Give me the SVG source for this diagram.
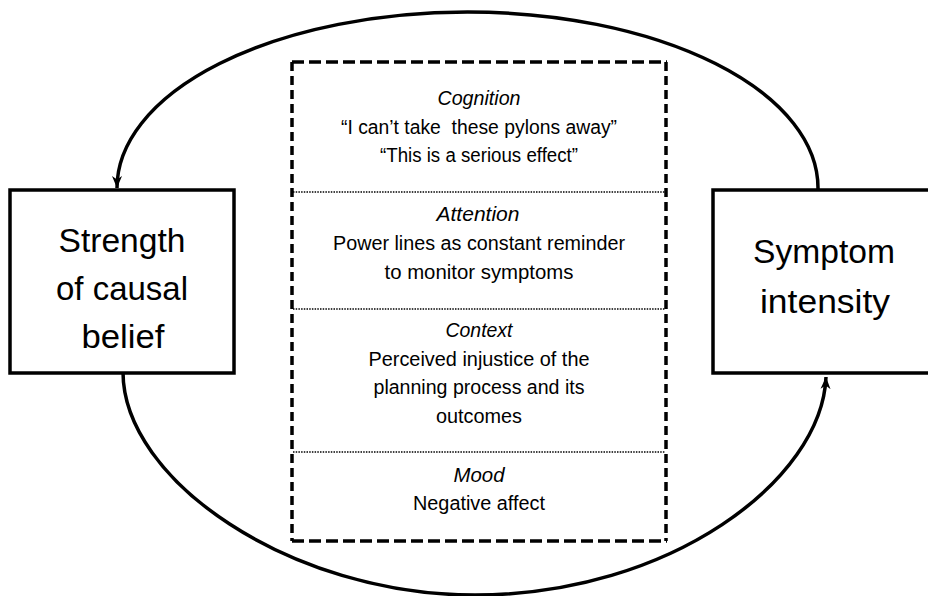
<svg xmlns="http://www.w3.org/2000/svg" width="928" height="596" viewBox="0 0 928 596">
  <style>
    .box { fill: #fff; stroke: #000; stroke-width: 3.5; }
    .arc { fill: none; stroke: #000; stroke-width: 3.5; }
    .dash-h { stroke: #000; stroke-width: 3.5; stroke-dasharray: 12 5; }
    .dash-v { stroke: #000; stroke-width: 3.5; stroke-dasharray: 9 5; }
    .sep { stroke: #000; stroke-width: 1.5; stroke-dasharray: 1.5 1.2; }
    text { font-family: "Liberation Sans", Arial, sans-serif; fill: #000; text-anchor: middle; }
    .big { font-size: 33px; }
    .mid { font-size: 20px; }
    .it { font-style: italic; }
  </style>
  <defs>
    <marker id="arrow" viewBox="0 0 12 12" refX="12" refY="6" markerWidth="12" markerHeight="12" markerUnits="userSpaceOnUse" orient="auto">
      <path d="M0,1 L12,6 L0,11 L3.5,6 z" fill="#000"/>
    </marker>
  </defs>

  <g id="connectors">
    <path class="arc" d="M818,191 L818,188 A350.5,176 0 0 0 467.5,12 A350.5,176 0 0 0 117,188" marker-end="url(#arrow)"/>
    <path class="arc" d="M123,372 C123,480 290,595 475,595 C670,595 822,480 826,377" marker-end="url(#arrow)"/>
  </g>

  <g id="node-strength">
    <rect class="box" x="10" y="190" width="224" height="183"/>
    <text class="big" x="122" y="252" textLength="127" lengthAdjust="spacingAndGlyphs">Strength</text>
    <text class="big" x="122" y="300" textLength="132" lengthAdjust="spacingAndGlyphs">of causal</text>
    <text class="big" x="123" y="348" textLength="83" lengthAdjust="spacingAndGlyphs">belief</text>
  </g>

  <g id="node-symptom">
    <rect class="box" x="713" y="190" width="230" height="183"/>
    <text class="big" x="824" y="263" textLength="142" lengthAdjust="spacingAndGlyphs">Symptom</text>
    <text class="big" x="825" y="313" textLength="130" lengthAdjust="spacingAndGlyphs">intensity</text>
  </g>

  <g id="node-factors">
    <line class="dash-h" x1="292" y1="62" x2="667" y2="62"/>
    <line class="dash-h" x1="292" y1="541" x2="667" y2="541"/>
    <line class="dash-v" x1="292" y1="62" x2="292" y2="541"/>
    <line class="dash-v" x1="666" y1="62" x2="666" y2="541"/>
    <line class="sep" x1="293" y1="192" x2="665" y2="192"/>
    <line class="sep" x1="293" y1="309" x2="665" y2="309"/>
    <line class="sep" x1="293" y1="452" x2="665" y2="452"/>

    <text class="mid it" x="479" y="105" textLength="83" lengthAdjust="spacingAndGlyphs">Cognition</text>
    <text class="mid" x="479" y="134" textLength="276" lengthAdjust="spacingAndGlyphs" xml:space="preserve">“I can’t take  these pylons away”</text>
    <text class="mid" x="479" y="162" textLength="198" lengthAdjust="spacingAndGlyphs">“This is a serious effect”</text>

    <text class="mid it" x="478" y="221" textLength="83" lengthAdjust="spacingAndGlyphs">Attention</text>
    <text class="mid" x="479" y="250" textLength="292" lengthAdjust="spacingAndGlyphs">Power lines as constant reminder</text>
    <text class="mid" x="479" y="279" textLength="189" lengthAdjust="spacingAndGlyphs">to monitor symptoms</text>

    <text class="mid it" x="479" y="337" textLength="67" lengthAdjust="spacingAndGlyphs">Context</text>
    <text class="mid" x="479" y="366" textLength="221" lengthAdjust="spacingAndGlyphs">Perceived injustice of the</text>
    <text class="mid" x="479" y="394" textLength="211" lengthAdjust="spacingAndGlyphs">planning process and its</text>
    <text class="mid" x="479" y="423" textLength="86" lengthAdjust="spacingAndGlyphs">outcomes</text>

    <text class="mid it" x="479" y="482" textLength="51" lengthAdjust="spacingAndGlyphs">Mood</text>
    <text class="mid" x="479" y="510" textLength="132" lengthAdjust="spacingAndGlyphs">Negative affect</text>
  </g>
</svg>
